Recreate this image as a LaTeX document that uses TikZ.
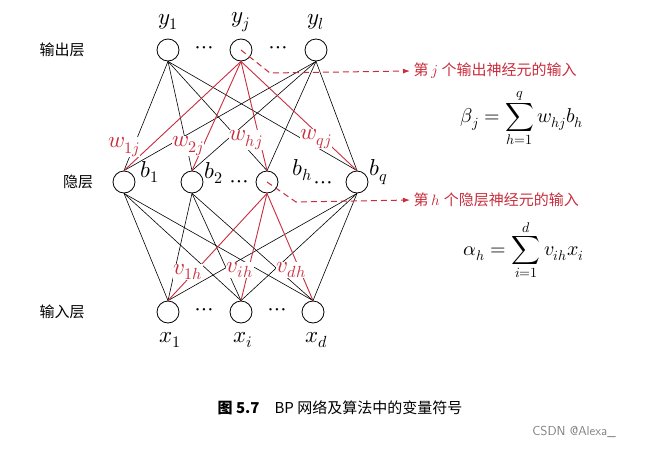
\documentclass[tikz,border=0pt]{standalone}
\usepackage{fontspec}
\usepackage{unicode-math}
\setmathfont{Latin Modern Math}
\newfontfamily\cjk{Noto Sans CJK SC}
\usetikzlibrary{arrows.meta}
\definecolor{myred}{RGB}{200,45,60}
\begin{document}
\begin{tikzpicture}[x=1pt,y=-1pt,
  neuron/.style={circle,draw,line width=0.8pt,minimum size=22pt,inner sep=0pt},
  conn/.style={line width=0.6pt},
  rconn/.style={line width=0.9pt,myred},
  wlab/.style={fill=white,inner sep=0.3pt,text=myred,font=\fontsize{23}{26}\selectfont},
  mlab/.style={inner sep=1pt,font=\fontsize{23}{26}\selectfont},
  cn/.style={font=\cjk\fontsize{15}{18}\selectfont},
  dashar/.style={myred,line width=1pt,dash pattern=on 6pt off 4pt,-{Latex[length=7pt,width=5pt]}}]
\useasboundingbox (0,0) rectangle (653,453);
\node[neuron] (y1) at (168,50) {};
\node[neuron] (yj) at (241,50) {};
\node[neuron] (yl) at (316,50) {};
\node[neuron] (b1) at (124,182) {};
\node[neuron] (b2) at (192,182) {};
\node[neuron] (bh) at (267,182) {};
\node[neuron] (bq) at (357,182) {};
\node[neuron] (x1) at (168,312) {};
\node[neuron] (xi) at (241,312) {};
\node[neuron] (xd) at (313,312) {};
% black connections
\foreach \u in {y1,yl}{\foreach \h in {b1,b2,bh,bq}{\draw[conn] (\u.south) -- (\h.north);}}
\foreach \h in {b1,b2,bq}{\foreach \i in {x1,xi,xd}{\draw[conn] (\h.south) -- (\i.north);}}
% red connections
\foreach \h in {b1,b2,bh,bq}{\draw[rconn] (yj.south) -- (\h.north);}
\foreach \i in {x1,xi,xd}{\draw[rconn] (bh.south) -- (\i.north);}
% weight labels
\node[wlab] (w1) at (124,147) {$w_{1j}$};
\node[wlab] (w2) at (188,146) {$w_{2j}$};
\node[wlab] (wh) at (246,140) {$w_{hj}$};
\node[wlab] (wq) at (316,139) {$w_{qj}$};
\node[wlab] (v1) at (188,272) {$v_{1h}$};
\node[wlab] (vi) at (240,270) {$v_{ih}$};
\node[wlab] (vd) at (291,270) {$v_{dh}$};
% node labels
\node[mlab] (ly1) at (168,22) {$y_1$};
\node[mlab] (lyj) at (241,22) {$y_j$};
\node[mlab] (lyl) at (316,22) {$y_l$};
\node[mlab] (lb1) at (150,172) {$b_1$};
\node[mlab] (lb2) at (214,173) {$b_2$};
\node[mlab] (lbh) at (302,170) {$b_h$};
\node[mlab] (lbq) at (379,172) {$b_q$};
\node[mlab] (lx1) at (170,340) {$x_1$};
\node[mlab] (lxi) at (243,340) {$x_i$};
\node[mlab] (lxd) at (317,340) {$x_d$};
% dots
\node[mlab] (d1) at (204,50) {$\cdots$};
\node[mlab] (d2) at (278,50) {$\cdots$};
\node[mlab] (d3) at (239,184) {$\cdots$};
\node[mlab] (d4) at (323,185) {$\cdots$};
\node[mlab] (d5) at (204,312) {$\cdots$};
\node[mlab] (d6) at (277,312) {$\cdots$};
% layer labels
\node[cn] (lo) at (62,50) {输出层};
\node[cn] (lh) at (78,182) {隐层};
\node[cn] (li) at (62,312) {输入层};
% annotations
\node[cn,text=myred,anchor=west] (t1) at (410,71) {第 $j$ 个输出神经元的输入};
\node[cn,text=myred,anchor=west] (t2) at (410,200) {第 $h$ 个隐层神经元的输入};
\coordinate (c1) at (270,73);
\coordinate (c2) at (296,202);
\draw[dashar] (yj.center) -- (c1) -- (t1.west);
\draw[dashar] (bh.center) -- (c2) -- (t2.west);
\node[mlab,font=\fontsize{20}{24}\selectfont] (f1) at (522,118) {$\beta_j=\displaystyle\sum_{h=1}^{q} w_{hj}b_h$};
\node[mlab,font=\fontsize{20}{24}\selectfont] (f2) at (524,250) {$\alpha_h=\displaystyle\sum_{i=1}^{d} v_{ih}x_i$};
% caption
\node[font=\cjk\bfseries\fontsize{15}{18}\selectfont] (cap) at (340,408) {图 5.7\quad \textnormal{\cjk BP 网络及算法中的变量符号}};
\node[font=\sffamily\fontsize{13}{15}\selectfont,text=gray] (wm) at (574,432) {CSDN @Alexa\_};
\end{tikzpicture}
\end{document}
